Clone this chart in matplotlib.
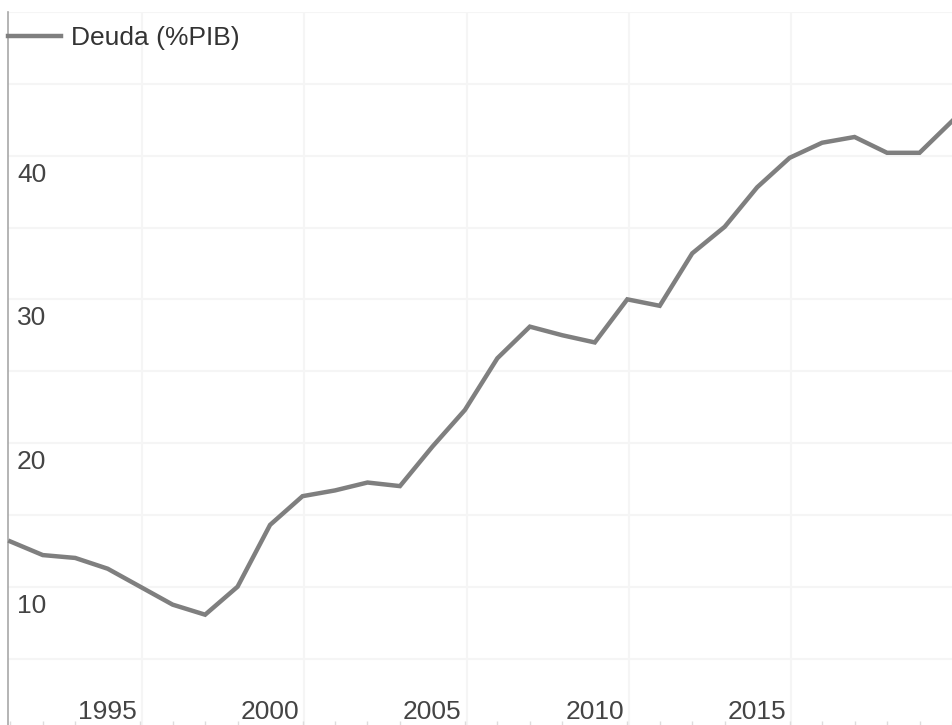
import matplotlib
matplotlib.use("Agg")
import matplotlib.pyplot as plt
import matplotlib.transforms as mtransforms

plt.rcParams['font.family'] = ['Liberation Sans', 'DejaVu Sans']

# Deuda pública (% del PIB), lectura aproximada del gráfico
years = [1992, 1993, 1994, 1995, 1996, 1997, 1998, 1999, 2000, 2001,
         2002, 2003, 2004, 2005, 2006, 2007, 2008, 2009, 2010, 2011,
         2012, 2013, 2014, 2015, 2016, 2017, 2018, 2019, 2020, 2021]
deuda = [13.15, 12.2, 12.0, 11.25, 10.0, 8.75, 8.05, 10.0, 14.3, 16.3,
         16.7, 17.25, 17.0, 19.75, 22.3, 25.9, 28.1, 27.5, 27.0, 30.0,
         29.55, 33.2, 35.05, 37.8, 39.85, 40.9, 41.3, 40.2, 40.2, 42.4]

x_labels = [1995, 2000, 2005, 2010, 2015]
x_grid = [1996.05, 2001.05, 2006.05, 2011.05, 2016.05]
y_labels = [10, 20, 30, 40]
y_grid = [5, 10, 15, 20, 25, 30, 35, 40, 45, 50]

line_color = '#7f7f7f'
grid_color = '#f5f5f5'
text_color = '#444444'

W, H = 952, 725
fig = plt.figure(figsize=(W / 100, H / 100), dpi=100)
ax = fig.add_axes([8 / W, 0, 944 / W, 713 / H])
ax.set_xlim(1991.93, 2020.89)
ax.set_ylim(50 - 713 / 14.367, 50)

for gx in x_grid:
    ax.axvline(gx, color=grid_color, lw=1.5, zorder=0)
for gy in y_grid:
    ax.axhline(gy, color=grid_color, lw=1.5, zorder=0)

ax.plot(years, deuda, color=line_color, lw=3.2, label='Deuda (%PIB)',
        solid_joinstyle='miter', clip_on=False, zorder=3)

for s in ['top', 'right', 'bottom']:
    ax.spines[s].set_visible(False)
ax.spines['left'].set_color('#a8a8a8')
ax.spines['left'].set_linewidth(1.2)

ax.set_yticks([])
ax.set_xticks(x_labels)
ax.set_xticklabels([str(y) for y in x_labels], fontsize=19, color=text_color)
ax.set_xticks(years, minor=True)
ax.tick_params(axis='x', which='major', length=0, pad=-9.4)
ax.tick_params(axis='x', which='minor', direction='in', length=3,
               width=1, color='#dddddd')
for lab in ax.get_xticklabels():
    lab.set_verticalalignment('center')

# etiquetas del eje y dentro del área, bajo cada línea de rejilla
trans = mtransforms.blended_transform_factory(ax.transAxes, ax.transData)
offset = mtransforms.ScaledTranslation(9 / 100, -19 / 100, fig.dpi_scale_trans)
for v in y_labels:
    ax.text(0, v, str(v), transform=trans + offset, ha='left', va='center',
            fontsize=19, color=text_color)

ax.legend(loc='center left', bbox_to_anchor=(0, 1 - 26 / 713), frameon=False,
          fontsize=19, borderaxespad=0, borderpad=0, handlelength=2.0,
          handletextpad=0.4, labelcolor='#333333')

fig.savefig('out.png', dpi=100)
